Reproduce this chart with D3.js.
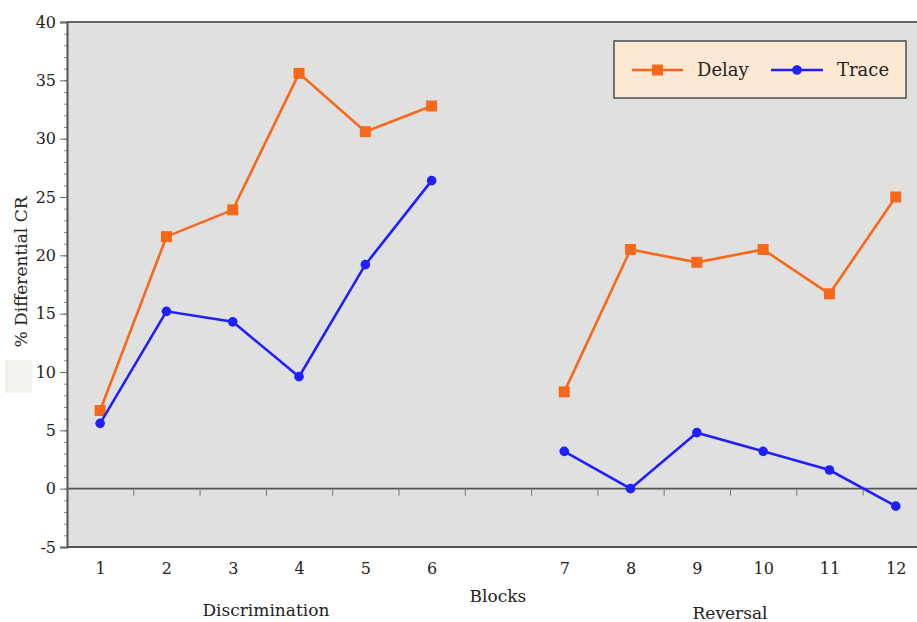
<!DOCTYPE html>
<html><head><meta charset="utf-8">
<script src="https://cdn.jsdelivr.net/npm/d3@7"></script>
<style>
body{margin:0;background:#fff;}
text{font-family:"DejaVu Serif",serif;fill:#222;}
</style></head>
<body><svg id="c" width="917" height="622"></svg>
<script>
const blocks = [1,2,3,4,5,6,7,8,9,10,11,12];
const phases = ["Discrimination","Reversal"];
const delay = [6.7,21.6,23.9,35.6,30.6,32.8, 8.3,20.5,19.4,20.5,16.7,25.0];
const trace = [5.6,15.2,14.3,9.6,19.2,26.4, 3.2,0.0,4.8,3.2,1.6,-1.5];
const yTicks = [-5,0,5,10,15,20,25,30,35,40];
const seriesNames = ["Delay","Trace"];

const svg = d3.select("#c");
const L = 67, T = 22, B = 547;
const slotW = 66.3;
const x = d3.scaleLinear().domain([0.5,13.5]).range([L, L+13*slotW]);
const slot = b => b <= 6 ? b : b+1;
const y = d3.scaleLinear().domain([-5,40]).range([B, T]);

// background
svg.append("rect").attr("x",L).attr("y",T).attr("width",917-L).attr("height",B-T).attr("fill","#e0e0e0");
// artifact box
svg.append("rect").attr("x",5).attr("y",360).attr("width",27).attr("height",33).attr("fill","#f2f2ee");

// borders
svg.append("line").attr("x1",L).attr("x2",917).attr("y1",T).attr("y2",T).attr("stroke","#666").attr("stroke-width",2);
svg.append("line").attr("x1",L).attr("x2",917).attr("y1",B).attr("y2",B).attr("stroke","#555").attr("stroke-width",2);

// y axis minor
const minor = d3.range(-5,41,1);
svg.append("g").attr("transform",`translate(${L},0)`)
  .call(d3.axisLeft(y).tickValues(minor).tickSize(3).tickFormat(""))
  .call(g=>g.select(".domain").remove())
  .selectAll("line").attr("stroke","#888");
// y axis major
const ya = svg.append("g").attr("transform",`translate(${L},0)`)
  .call(d3.axisLeft(y).tickValues(yTicks).tickSize(7).tickPadding(4).tickFormat(d=>String(d)));
ya.select(".domain").attr("stroke","#555").attr("stroke-width",2);
ya.selectAll(".tick line").attr("stroke","#666");
ya.selectAll("text").style("font-size","16px").attr("fill","#222");

// zero line
svg.append("line").attr("x1",L).attr("x2",917).attr("y1",y(0)).attr("y2",y(0)).attr("stroke","#555").attr("stroke-width",1.6);
// ticks on zero line at slot boundaries
const bounds = d3.range(1.5,13.5,1);
svg.append("g").attr("transform",`translate(0,${y(0)})`)
  .call(d3.axisBottom(x).tickValues(bounds).tickSize(7).tickFormat(""))
  .call(g=>g.select(".domain").remove())
  .selectAll("line").attr("stroke","#777");

// x tick labels
svg.append("g").attr("transform",`translate(0,${B})`)
  .call(d3.axisBottom(x).tickValues(blocks.map(slot)).tickSize(0).tickPadding(16)
    .tickFormat((d,i)=>blocks[i]))
  .call(g=>g.select(".domain").remove())
  .selectAll("text").style("font-size","16px").attr("fill","#222");

// axis titles
svg.append("text").attr("x",x(3.5)).attr("y",616).attr("text-anchor","middle").style("font-size","17px").text(phases[0]);
svg.append("text").attr("x",x(10.5)).attr("y",619).attr("text-anchor","middle").style("font-size","17px").text(phases[1]);
svg.append("text").attr("x",x(7)).attr("y",602).attr("text-anchor","middle").style("font-size","17px").text("Blocks");
svg.append("text").attr("transform","translate(27,272) rotate(-90)").attr("text-anchor","middle").style("font-size","17px").text("% Differential CR");

const colors = ["#f7691a","#1f1fff"];
const line = d3.line().x(d=>x(slot(d.b))).y(d=>y(d.v));
[delay,trace].forEach((vals,si)=>{
  const pts = blocks.map((b,i)=>({b, v: vals[i]}));
  const segs = [pts.slice(0,6), pts.slice(6)];
  segs.forEach(s=>svg.append("path").datum(s).attr("d",line).attr("fill","none")
    .attr("stroke",colors[si]).attr("stroke-width",2.6));
  if(si===0){
    svg.selectAll(null).data(pts).join("rect")
      .attr("x",d=>x(slot(d.b))-5.5).attr("y",d=>y(d.v)-5.5).attr("width",11).attr("height",11)
      .attr("fill",colors[si]);
  } else {
    svg.selectAll(null).data(pts).join("circle")
      .attr("cx",d=>x(slot(d.b))).attr("cy",d=>y(d.v)).attr("r",4.8).attr("fill",colors[si]);
  }
});

// legend
const lg = svg.append("g");
lg.append("rect").attr("x",614).attr("y",41).attr("width",292).attr("height",57)
  .attr("fill","#fde9d3").attr("stroke","#555").attr("stroke-width",1.6);
[[632,683,697],[771,823,837]].forEach((p,i)=>{
  lg.append("line").attr("x1",p[0]).attr("x2",p[1]).attr("y1",70).attr("y2",70).attr("stroke",colors[i]).attr("stroke-width",2.4);
  const cx=(p[0]+p[1])/2;
  if(i===0) lg.append("rect").attr("x",cx-5.5).attr("y",64.5).attr("width",11).attr("height",11).attr("fill",colors[i]);
  else lg.append("circle").attr("cx",cx).attr("cy",70).attr("r",4.8).attr("fill",colors[i]);
  lg.append("text").attr("x",p[2]).attr("y",76).style("font-size","18px").text(seriesNames[i]);
});
</script></body></html>
